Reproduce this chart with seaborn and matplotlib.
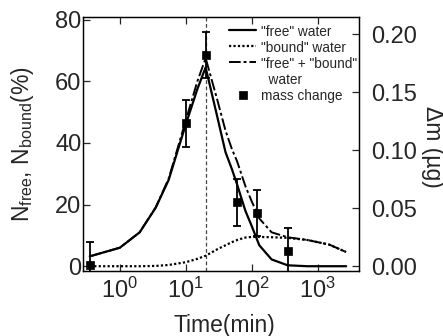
import matplotlib
matplotlib.use('Agg')

import matplotlib.pyplot as plt
import seaborn as sns

# curves (time in min, percent)
time_min = [0.35, 1, 2, 3.5, 5.5, 10, 15, 20, 30, 40, 50, 60, 80, 100, 130, 200, 350, 700, 1500, 2700]
free_water = [3.2, 6.0, 11.0, 19.0, 28.0, 46.0, 57.5, 64.5, 48.5, 37.0, 31.5, 26.5, 18.0, 13.0, 6.8, 2.2, 0.3, 0.0, 0.0, 0.0]
bound_water = [0.0, 0.0, 0.0, 0.1, 0.4, 1.3, 2.4, 3.4, 5.5, 6.8, 7.8, 8.5, 9.3, 9.5, 9.5, 9.4, 9.2, 8.5, 7.0, 4.6]
free_bound_water = [3.2, 6.0, 11.0, 19.1, 28.4, 47.3, 60.0, 67.5, 54.0, 44.0, 38.0, 34.0, 26.0, 21.0, 15.5, 11.0, 9.4, 8.5, 7.0, 4.6]

# mass change (ug)
mass_time = [0.35, 10, 20, 60, 120, 355]
mass_dm = [0.001, 0.123, 0.182, 0.055, 0.046, 0.013]
mass_err = [0.020, 0.020, 0.020, 0.020, 0.020, 0.020]

peak_time = 20

left_ticks = [0, 20, 40, 60, 80]
right_ticks = [0.00, 0.05, 0.10, 0.15, 0.20]
x_ticks = [1, 10, 100, 1000]

sns.set_style('ticks')
plt.rcParams['font.family'] = ['Liberation Sans', 'DejaVu Sans']
plt.rcParams['mathtext.default'] = 'regular'

fig = plt.figure(figsize=(4.43, 3.36), dpi=100)
ax = fig.add_axes([0.187, 0.193, 0.623, 0.756])
ax2 = ax.twinx()

sns.lineplot(x=time_min, y=free_water, ax=ax, color='black', linewidth=1.6,
             label='"free" water')
sns.lineplot(x=time_min, y=bound_water, ax=ax, color='black', linewidth=1.6,
             linestyle=(0, (1, 1)), label='"bound" water')
sns.lineplot(x=time_min, y=free_bound_water, ax=ax, color='black', linewidth=1.4,
             linestyle=(0, (6, 1.5, 1.5, 1.5)), label='"free" + "bound"\n  water')
ax.axvline(peak_time, color='#444444', linewidth=0.9, linestyle=(0, (3, 2)))

ax2.errorbar(mass_time, mass_dm, yerr=mass_err, fmt='none', ecolor='black',
             elinewidth=1.3, capsize=3, capthick=1.3)
sns.scatterplot(x=mass_time, y=mass_dm, ax=ax2, marker='s', s=30, color='black',
                edgecolor='black', linewidth=0.5, label='mass change', zorder=5)

ax.set_xscale('log')
ax.set_xlim(0.275, 4200)
ax.set_ylim(-1.6, 80.8)
ax2.set_ylim(-0.0043, 0.2147)
ax.set_xticks(x_ticks)
ax.set_yticks(left_ticks)
ax2.set_yticks(right_ticks)
ax2.set_yticklabels(['%.2f' % v for v in right_ticks])
ax.xaxis.set_minor_locator(matplotlib.ticker.NullLocator())

ax.tick_params(axis='x', which='major', direction='in', top=True, length=5,
               width=0.9, labelsize=17, pad=5)
ax.tick_params(axis='y', which='major', direction='in', right=False, length=5,
               width=0.9, labelsize=17, pad=1)
ax2.tick_params(axis='y', which='major', direction='in', length=5, width=0.9,
                labelsize=17, pad=9)
for a in (ax, ax2):
    for s in a.spines.values():
        s.set_linewidth(0.9)
        s.set_color('black')
        s.set_visible(True)

ax.set_xlabel('Time(min)', fontsize=16.5)
ax.set_ylabel('N$_{free}$, N$_{bound}$(%)', fontsize=16.5)
ax2.set_ylabel('\u0394m (\u00b5g)', fontsize=16.5, rotation=270)
ax.xaxis.set_label_coords(0.514, -0.17)
ax.yaxis.set_label_coords(-0.168, 0.5)
ax2.yaxis.set_label_coords(1.31, 0.488)

h1, l1 = ax.get_legend_handles_labels()
h2, l2 = ax2.get_legend_handles_labels()
if ax.get_legend():
    ax.get_legend().remove()
if ax2.get_legend():
    ax2.get_legend().remove()
leg = ax2.legend(h1 + h2, l1 + l2, loc='upper left', bbox_to_anchor=(0.50, 1.0),
                 frameon=False, fontsize=9.8, handlelength=2.0, handletextpad=0.35,
                 labelspacing=0.13, borderaxespad=0.2)
# put the handle of the two-line entry next to its first line
for col in leg._legend_handle_box.get_children():
    for row in col.get_children():
        row.align = 'top'

fig.savefig('out.png', dpi=100)
